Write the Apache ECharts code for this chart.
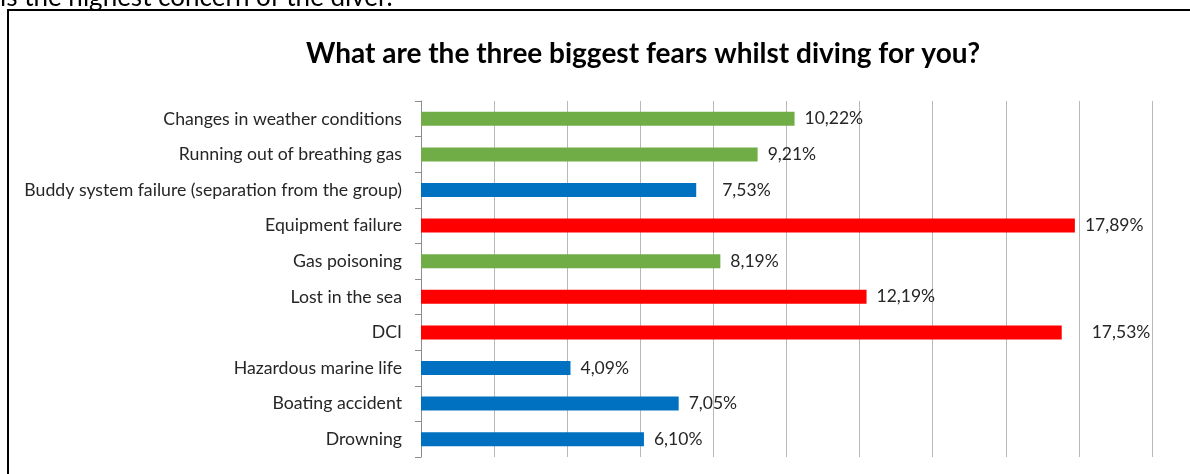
<!DOCTYPE html>
<html>
<head>
<meta charset="utf-8">
<script src="https://cdn.jsdelivr.net/npm/echarts@6/dist/echarts.min.js"></script>
<style>
html,body{margin:0;padding:0;background:#fff;}
#chart{width:1190px;height:474px;}
</style>
</head>
<body>
<div id="chart"></div>
<script>
// Data (top to bottom as shown)
const categories = [
  'Changes in weather conditions',
  'Running out of breathing gas',
  'Buddy system failure (separation from the group)',
  'Equipment failure',
  'Gas poisoning',
  'Lost in the sea',
  'DCI',
  'Hazardous marine life',
  'Boating accident',
  'Drowning'
];
const values = [10.22, 9.21, 7.53, 17.89, 8.19, 12.19, 17.53, 4.09, 7.05, 6.10];
const tiers = ['mid', 'mid', 'low', 'high', 'mid', 'high', 'high', 'low', 'low', 'low'];
const titleText = 'What are the three biggest fears whilst diving for you?';
const pageText = 'is the highest concern of the diver.';

const tierColors = { high: '#FF0000', mid: '#70AD47', low: '#0070C0' };
const labelDistance = { 2: 26, 6: 30 };

const FONT = 'Lato, "Open Sans", sans-serif';

// ECharts category axis draws from bottom up; reverse so first is on top
const cats = categories.slice().reverse();
const seriesData = values.map((v, i) => ({
  value: v,
  itemStyle: { color: tierColors[tiers[i]] },
  label: { distance: labelDistance[i] !== undefined ? labelDistance[i] : 10 }
})).reverse();

const chart = echarts.init(document.getElementById('chart'));
chart.setOption({
  animation: false,
  backgroundColor: '#ffffff',
  title: {
    text: titleText,
    left: 638,
    textAlign: 'center',
    top: 35,
    textStyle: { fontFamily: FONT, fontWeight: 'bold', fontSize: 28, color: '#000000' }
  },
  graphic: [
    {
      type: 'text',
      left: 0,
      top: -15,
      style: { text: pageText, font: '26px ' + FONT, fill: '#000000' },
      silent: true
    },
    {
      type: 'rect',
      shape: { x: 8, y: 10, width: 1200, height: 500 },
      style: { fill: 'none', stroke: '#000000', lineWidth: 2 },
      silent: true
    }
  ],
  grid: { left: 421, right: 38, top: 101, bottom: 17, containLabel: false },
  xAxis: {
    type: 'value',
    min: 0,
    max: 20,
    interval: 2,
    axisLabel: { show: false },
    axisLine: { show: false },
    axisTick: { show: false },
    splitLine: { show: true, lineStyle: { color: '#B8B8B8', width: 1 } }
  },
  yAxis: {
    type: 'category',
    data: cats,
    axisLine: { show: true, lineStyle: { color: '#8C8C8C', width: 1 } },
    axisTick: { show: true, length: 6, lineStyle: { color: '#8C8C8C' } },
    axisLabel: { margin: 19, fontFamily: FONT, fontSize: 17.7, color: '#262626' }
  },
  series: [{
    type: 'bar',
    data: seriesData,
    barWidth: 14,
    label: {
      show: true,
      position: 'right',
      fontFamily: FONT,
      fontSize: 17.5,
      color: '#262626',
      formatter: p => p.value.toFixed(2).replace('.', ',') + '%'
    }
  }]
});
</script>
</body>
</html>
